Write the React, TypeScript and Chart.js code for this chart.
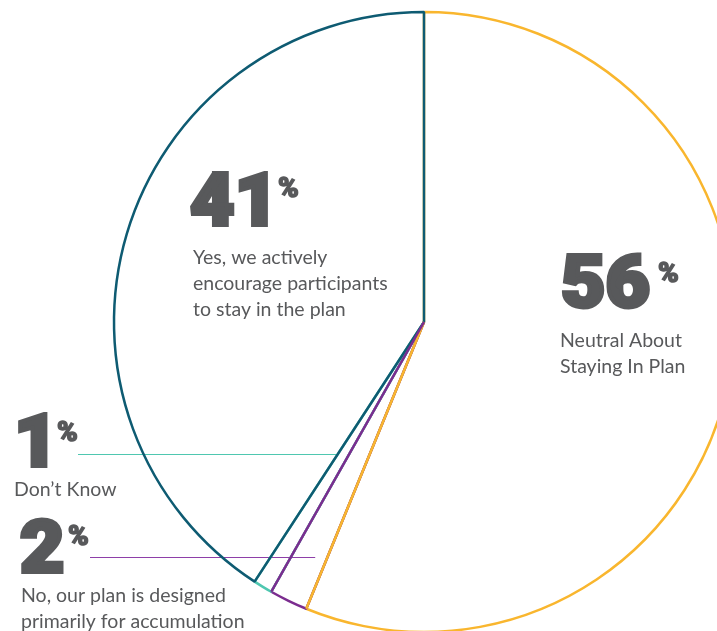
import React, { useEffect, useRef } from "react";
import { Chart, registerables } from "chart.js";

Chart.register(...registerables);

// ---- data ----
const categories = [
  "Neutral About Staying In Plan",
  "No, our plan is designed primarily for accumulation",
  "Don’t Know",
  "Yes, we actively encourage participants to stay in the plan",
];
const values = [56.2, 2.0, 1.0, 40.8];
const percentLabels = [56, 2, 1, 41];
const sliceColors = ["#F9B62E", "#7B2C8F", "#4FC7B0", "#0E5B72"];
const leaderColors = ["#F9B62E", "#8E3FA8", "#4FC7B0", "#0E5B72"];
const labelLines = [
  ["Neutral About", "Staying In Plan"],
  ["No, our plan is designed", "primarily for accumulation"],
  ["Don’t Know"],
  ["Yes, we actively", "encourage participants", "to stay in the plan"],
];

// ---- layout of annotations (positions, not data) ----
const labelLayout = [
  { numX: 561, numY: 307, pctX: 658, pctY: 282, textX: 560, textY: [347, 373], leader: null },
  { numX: 20, numY: 572, pctX: 68, pctY: 545, textX: 21, textY: [602, 628], leader: { y: 557, x0: 90, frac: 0.35 } },
  { numX: 14, numY: 466, pctX: 57, pctY: 441, textX: 14, textY: [496], leader: { y: 454, x0: 78, frac: 0.9 } },
  { numX: 190, numY: 225, pctX: 278, pctY: 197, textX: 193, textY: [264, 290, 316], leader: null },
];

const TEXT_COLOR = "#58595B";
const NUM_FONT = "900 73px Roboto, Inter, sans-serif";
const PCT_FONT = "900 28px Roboto, Inter, sans-serif";
const BODY_FONT = "400 19.5px Lato, 'Open Sans', sans-serif";
const NUM_STRETCH = 1.05;

const leaderPlugin = {
  id: "leaders",
  beforeDatasetsDraw(chart: any) {
    const ctx = chart.ctx;
    const arcs = chart.getDatasetMeta(0).data;
    ctx.save();
    labelLayout.forEach((l, i) => {
      if (!l.leader) return;
      const arc: any = arcs[i];
      const a = arc.startAngle + (arc.endAngle - arc.startAngle) * l.leader.frac;
      const t = (l.leader.y - arc.y) / Math.sin(a);
      const xEnd = arc.x + t * Math.cos(a);
      ctx.strokeStyle = leaderColors[i];
      ctx.lineWidth = 1;
      ctx.beginPath();
      ctx.moveTo(l.leader.x0, l.leader.y + 0.5);
      ctx.lineTo(xEnd, l.leader.y + 0.5);
      ctx.stroke();
    });
    ctx.restore();
  },
  afterDatasetsDraw(chart: any) {
    const ctx = chart.ctx;
    const arcs = chart.getDatasetMeta(0).data;
    ctx.save();
    ctx.lineWidth = 2.5;
    ctx.lineCap = "butt";
    [0, 1].forEach((i) => {
      const arc: any = arcs[i];
      ctx.strokeStyle = sliceColors[i];
      ctx.beginPath();
      ctx.moveTo(arc.x, arc.y);
      ctx.lineTo(
        arc.x + arc.outerRadius * Math.cos(arc.endAngle),
        arc.y + arc.outerRadius * Math.sin(arc.endAngle)
      );
      ctx.stroke();
    });
    ctx.restore();
  },
  afterDraw(chart: any) {
    const ctx = chart.ctx;
    ctx.save();
    ctx.fillStyle = TEXT_COLOR;
    ctx.strokeStyle = TEXT_COLOR;
    ctx.lineJoin = "miter";
    ctx.textBaseline = "alphabetic";
    ctx.textAlign = "left";
    labelLayout.forEach((l, i) => {
      const num = String(percentLabels[i]);
      ctx.save();
      ctx.translate(l.numX, l.numY);
      ctx.scale(NUM_STRETCH, 1);
      ctx.font = NUM_FONT;
      ctx.lineWidth = 4;
      ctx.fillText(num, 0, 0);
      ctx.strokeText(num, 0, 0);
      ctx.restore();
      ctx.font = PCT_FONT;
      ctx.lineWidth = 1.5;
      ctx.fillText("%", l.pctX, l.pctY);
      ctx.strokeText("%", l.pctX, l.pctY);
      ctx.font = BODY_FONT;
      labelLines[i].forEach((line, j) => {
        ctx.fillText(line, l.textX, l.textY[j]);
      });
    });
    ctx.restore();
  },
};

export default function App() {
  const canvasRef = useRef<HTMLCanvasElement | null>(null);

  useEffect(() => {
    if (!canvasRef.current) return;
    const chart = new Chart(canvasRef.current, {
      type: "pie",
      data: {
        labels: categories,
        datasets: [
          {
            data: values,
            backgroundColor: "rgba(0,0,0,0)",
            borderColor: sliceColors,
            borderWidth: 2.5,
            radius: 310,
            clip: false,
          } as any,
        ],
      },
      options: {
        responsive: false,
        animation: false,
        devicePixelRatio: 1,
        layout: { padding: { left: 131, right: 0, top: 13, bottom: 0 } },
        plugins: {
          legend: { display: false },
          tooltip: { enabled: false },
        },
      },
      plugins: [leaderPlugin],
    });
    return () => chart.destroy();
  }, []);

  return (
    <div
      style={{
        position: "fixed",
        left: 0,
        top: 0,
        width: 717,
        height: 631,
        overflow: "hidden",
        background: "#ffffff",
      }}
    >
      <canvas ref={canvasRef} width={717} height={631} style={{ display: "block" }} />
    </div>
  );
}
